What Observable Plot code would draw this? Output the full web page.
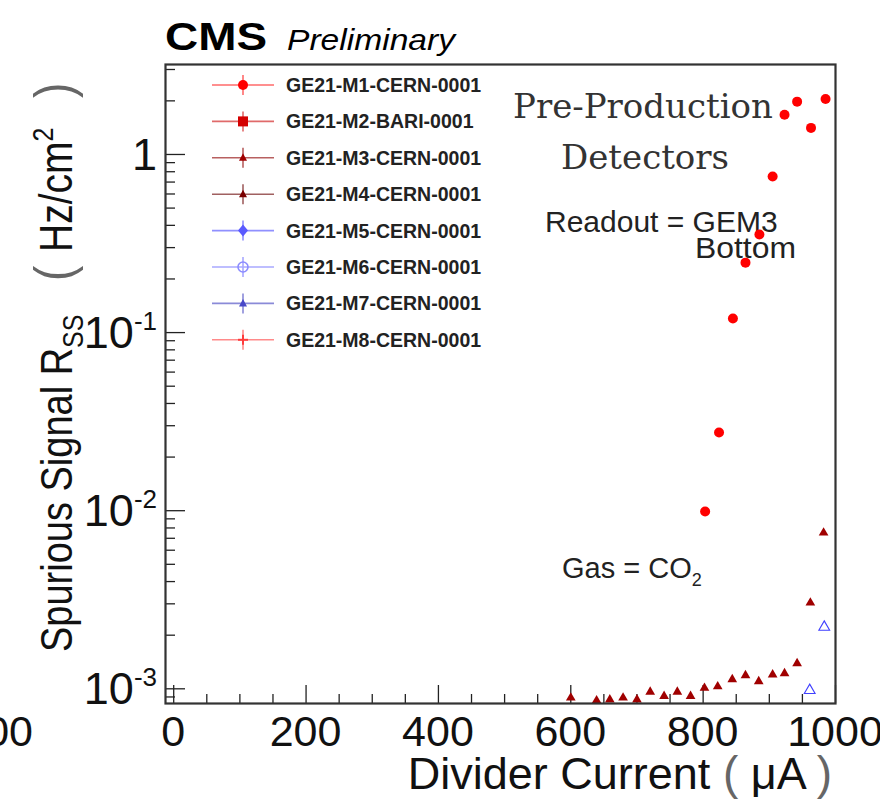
<!DOCTYPE html>
<html><head><meta charset="utf-8">
<script src="https://cdn.jsdelivr.net/npm/d3@7"></script>
<script src="https://cdn.jsdelivr.net/npm/@observablehq/plot@0.6"></script>
<style>
body{margin:0;background:#fff;}
#chart{position:relative;width:880px;height:799px;overflow:hidden;background:#fff;}
svg{font-family:"Liberation Sans",Arial,Helvetica,sans-serif;}
</style></head><body><div id="chart"></div>
<script>
// ---------------- data ----------------
const legendNames = ["GE21-M1-CERN-0001","GE21-M2-BARI-0001","GE21-M3-CERN-0001","GE21-M4-CERN-0001",
                     "GE21-M5-CERN-0001","GE21-M6-CERN-0001","GE21-M7-CERN-0001","GE21-M8-CERN-0001"];
const legendMarkers = ["circle","square","triangle","triangle","diamond","circleOpen","triangle","plus"];
const legendColors = ["#ff0000","#d40000","#a00000","#7a0000","#5a5aff","#8c8cff","#4848c8","#ff3c3c"];
const legendLineColors = ["#ff6a6a","#e06a6a","#b86060","#a06060","#9090ff","#a8a8ff","#8a8ad8","#ff8a8a"];

// GE21-M1-CERN-0001 (red dots)
const m1Current = [803, 824, 845, 864, 885, 905, 923, 942, 963, 985];
const m1Rate    = [0.0099, 0.0275, 0.12, 0.247, 0.355, 0.752, 1.67, 1.98, 1.41, 2.05];
// GE21-M3-CERN-0001 (dark red triangles)
const m3Current = [600, 639, 659, 679, 700, 720, 741, 761, 781, 802, 822, 844, 864, 884, 905, 923, 942, 962, 982];
const m3Rate    = [0.00089, 0.00086, 0.00087, 0.00089, 0.00087, 0.00096, 0.00091, 0.00096, 0.00091, 0.00101,
                   0.00103, 0.00113, 0.00119, 0.00110, 0.00120, 0.00122, 0.00139, 0.00304, 0.00752];
// GE21-M7-CERN-0001 (blue open triangles)
const m7Current = [961, 983];
const m7Rate    = [0.00098, 0.00222];

const xTickValues = [0, 200, 400, 600, 800, 1000];
const xTickLabels = ["0", "200", "400", "600", "800", "1000"];
const yTickValues = [0.001, 0.01, 0.1, 1];
const yTickBase = ["10", "10", "10", "1"];
const yTickExp  = ["-3", "-2", "-1", ""];

// ---------------- layout ----------------
const W = 880, H = 799, mL = 165, mR = 45, mT = 64, mB = 96;
const fW = W - mL - mR, fH = H - mT - mB;
const xDomain = [-12.4, 1000], yDomain = [8.27e-4, 3.2];

const xMinor = d3.range(0, 1001, 50).filter(v => v % 200 !== 0);
const yMinor = [];
for (const dec of [1e-4, 1e-3, 1e-2, 1e-1, 1]) for (let k = 2; k <= 9; k++) {
  const v = k * dec; if (v >= yDomain[0] && v <= yDomain[1]) yMinor.push(v);
}

const m1 = m1Current.map((x, i) => ({x, y: m1Rate[i]}));
const m3 = m3Current.map((x, i) => ({x, y: m3Rate[i]}));
const m7 = m7Current.map((x, i) => ({x, y: m7Rate[i]}));

const plot = Plot.plot({
  width: W, height: H, marginLeft: mL, marginRight: mR, marginTop: mT, marginBottom: mB,
  style: {background: "#fff", fontFamily: "Liberation Sans, Arial, sans-serif"},
  x: {domain: xDomain, axis: null},
  y: {type: "log", domain: yDomain, axis: null},
  marks: [
    Plot.tickX(xMinor, {x: d => d, insetTop: fH - 9, stroke: "#222", strokeWidth: 1.3}),
    Plot.tickX(xTickValues, {x: d => d, insetTop: fH - 18, stroke: "#222", strokeWidth: 1.3}),
    Plot.tickY(yMinor, {y: d => d, insetRight: fW - 10, stroke: "#222", strokeWidth: 1.3}),
    Plot.tickY(yTickValues, {y: d => d, insetRight: fW - 20, stroke: "#222", strokeWidth: 1.3}),
    Plot.dot(m3, {x: "x", y: "y", symbol: "triangle", fill: "#a00000", r: 3.6}),
    Plot.dot(m7, {x: "x", y: "y", symbol: "triangle", stroke: "#4040ff", fill: "none", r: 4, strokeWidth: 1.1}),
    Plot.dot(m1, {x: "x", y: "y", fill: "#ff0000", r: 5}),
    Plot.frame({stroke: "#333", strokeWidth: 2.2})
  ]
});
document.getElementById("chart").appendChild(plot);

const svg = d3.select(plot);
const xs = plot.scale("x"), ys = plot.scale("y");
const font = "Liberation Sans, Arial, Helvetica, sans-serif";
const serif = "DejaVu Serif, Liberation Serif, serif";

// annotations (behind the data)
const ann = svg.insert("g", ":first-child").attr("fill", "#222").attr("text-anchor", "start");
ann.append("text").attr("x", 513).attr("y", 118).attr("font-family", serif)
   .attr("font-size", 34).attr("fill", "#333").text("Pre-Production");
ann.append("text").attr("x", 645).attr("y", 169).attr("text-anchor", "middle").attr("font-family", serif)
   .attr("font-size", 34).attr("fill", "#333").text("Detectors");
ann.append("text").attr("x", 545).attr("y", 232).attr("font-family", font).attr("font-size", 30).text("Readout = GEM3");
ann.append("text").attr("x", 695).attr("y", 258).attr("font-family", font).attr("font-size", 30)
   .attr("textLength", 101).attr("lengthAdjust", "spacingAndGlyphs").text("Bottom");
const gas = ann.append("text").attr("x", 562).attr("y", 578).attr("font-family", font).attr("font-size", 29);
gas.append("tspan").text("Gas = CO");
gas.append("tspan").attr("font-size", 18).attr("dy", 8).text("2");
svg.insert("rect", ":first-child").attr("width", W).attr("height", H).attr("fill", "#fff");

// x tick labels
const gx = svg.append("g").attr("font-family", font).attr("font-size", 43).attr("fill", "#111").attr("text-anchor", "middle");
xTickValues.forEach((v, i) => gx.append("text").attr("x", xs.apply(v)).attr("y", 746).text(xTickLabels[i]));
gx.append("text").attr("x", 33).attr("y", 746).attr("text-anchor", "end").text("1000");

// y tick labels
const gy = svg.append("g").attr("font-family", font).attr("font-size", 45).attr("fill", "#111").attr("text-anchor", "end");
yTickValues.forEach((v, i) => {
  const t = gy.append("text").attr("x", 157).attr("y", ys.apply(v) + 16);
  t.append("tspan").text(yTickBase[i]);
  if (yTickExp[i]) t.append("tspan").attr("font-size", 26).attr("dy", -18).text(yTickExp[i]);
});

// axis titles
const xl = svg.append("text").attr("x", 832).attr("y", 789).attr("text-anchor", "end")
  .attr("font-family", font).attr("font-size", 45).attr("fill", "#111");
xl.append("tspan").text("Divider Current ");
xl.append("tspan").attr("font-weight", 200).attr("fill", "#666").attr("font-size", 46).text("(");
xl.append("tspan").text(" \u03bcA ");
xl.append("tspan").attr("font-weight", 200).attr("fill", "#666").attr("font-size", 46).text(")");

const ylg = svg.append("g").attr("text-anchor", "start").attr("font-family", font).attr("fill", "#111");
const yl1 = ylg.append("text").attr("transform", "translate(72,652) scale(1.18,1) rotate(-90)").attr("font-size", 38);
yl1.append("tspan").text("Spurious Signal R");
yl1.append("tspan").attr("font-size", 25).attr("dy", 9).text("SS");
ylg.append("text").attr("transform", "translate(72,281) scale(1.18,1) rotate(-90)").attr("font-size", 46)
   .attr("font-weight", 200).attr("fill", "#666").text("(");
const yl2 = ylg.append("text").attr("transform", "translate(72,252) scale(1.18,1) rotate(-90)").attr("font-size", 39);
yl2.append("tspan").text("Hz/cm");
yl2.append("tspan").attr("font-size", 25).attr("dy", -16).text("2");
ylg.append("text").attr("transform", "translate(72,98) scale(1.18,1) rotate(-90)").attr("font-size", 46)
   .attr("font-weight", 200).attr("fill", "#666").text(")");

// title
const tg = svg.append("g").attr("text-anchor", "start").attr("font-family", font).attr("fill", "#000");
tg.append("text").attr("x", 165).attr("y", 50).attr("font-weight", "bold").attr("font-size", 38)
  .attr("textLength", 102).attr("lengthAdjust", "spacingAndGlyphs").text("CMS");
tg.append("text").attr("x", 287).attr("y", 50).attr("font-style", "italic").attr("font-size", 29)
  .attr("textLength", 168).attr("lengthAdjust", "spacingAndGlyphs").text("Preliminary");

// legend
const lg = svg.append("g").attr("text-anchor", "start");
legendNames.forEach((name, i) => {
  const cy = 85 + i * 36.4, cx = 243, c = legendColors[i];
  const g = lg.append("g");
  g.append("line").attr("x1", 212).attr("x2", 274).attr("y1", cy).attr("y2", cy).attr("stroke", legendLineColors[i]).attr("stroke-width", 1.6);
  g.append("line").attr("x1", cx).attr("x2", cx).attr("y1", cy - 10).attr("y2", cy + 10).attr("stroke", legendLineColors[i]).attr("stroke-width", 1.6);
  const m = legendMarkers[i];
  if (m === "circle") g.append("circle").attr("cx", cx).attr("cy", cy).attr("r", 5).attr("fill", c);
  else if (m === "square") g.append("rect").attr("x", cx - 5).attr("y", cy - 5).attr("width", 10).attr("height", 10).attr("fill", c);
  else if (m === "triangle") g.append("path").attr("d", `M${cx},${cy-4.5}L${cx+4},${cy+3}L${cx-4},${cy+3}Z`).attr("fill", c);
  else if (m === "diamond") g.append("path").attr("d", `M${cx},${cy-6}L${cx+5},${cy}L${cx},${cy+6}L${cx-5},${cy}Z`).attr("fill", c);
  else if (m === "circleOpen") g.append("circle").attr("cx", cx).attr("cy", cy).attr("r", 5).attr("fill", "none").attr("stroke", c).attr("stroke-width", 1.6);
  else if (m === "plus") { g.append("line").attr("x1", cx - 5).attr("x2", cx + 5).attr("y1", cy).attr("y2", cy).attr("stroke", c).attr("stroke-width", 2);
                           g.append("line").attr("x1", cx).attr("x2", cx).attr("y1", cy - 5).attr("y2", cy + 5).attr("stroke", c).attr("stroke-width", 2); }
  g.append("text").attr("x", 286).attr("y", cy + 7).attr("font-family", font).attr("font-weight", "bold")
   .attr("font-size", 19.5).attr("fill", "#222").text(name);
});
</script></body></html>
